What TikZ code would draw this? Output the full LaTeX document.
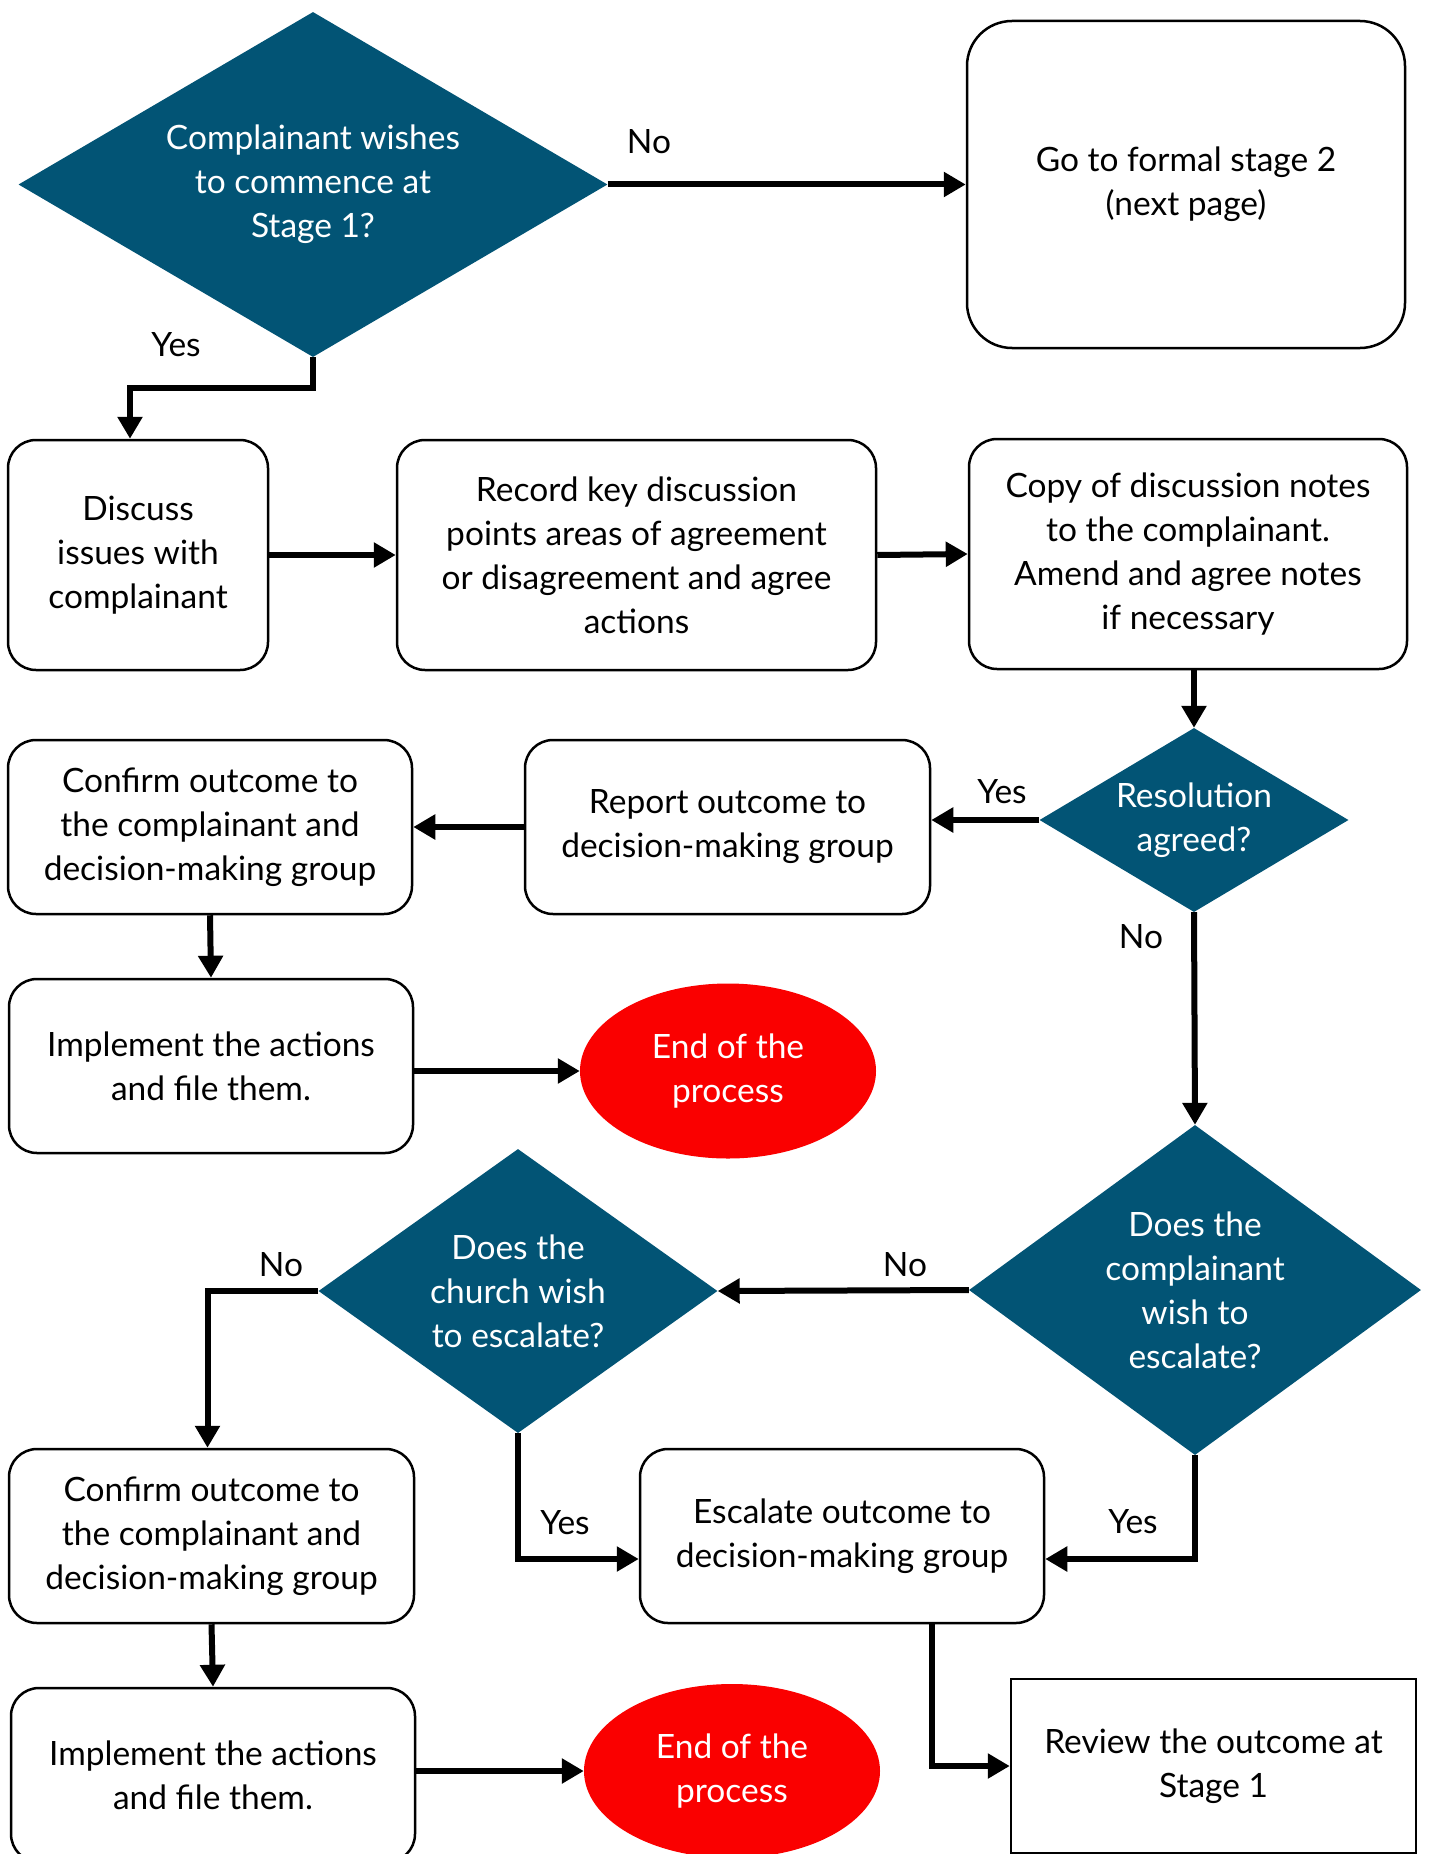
\documentclass[tikz,border=0pt]{standalone}
\usepackage{fontspec}
\setmainfont{Lato}
\usetikzlibrary{shapes.geometric,arrows.meta,calc}
\definecolor{dblue}{RGB}{2,84,117}
\definecolor{endred}{RGB}{250,0,0}
\begin{document}
\begin{tikzpicture}[x=1pt,y=-1pt,
  font=\fontsize{33.5}{44}\selectfont,
  box/.style={draw,line width=2.5pt,rounded corners=28pt,align=center,inner sep=0pt},
  sqbox/.style={draw,line width=2.5pt,align=center,inner sep=0pt},
  dec/.style={diamond,fill=dblue,text=white,align=center,inner sep=0pt},
  term/.style={ellipse,fill=endred,text=white,align=center,inner sep=0pt},
  conn/.style={line width=6pt,-{Triangle[length=22pt,width=24pt]}},
  lbl/.style={inner sep=0pt}
]
\useasboundingbox[fill=white] (0,0) rectangle (1431,1854);

% nodes
\node[dec,aspect=1.707,minimum width=589pt,minimum height=345pt] (q1) at (313,184.5) {Complainant wishes\\to commence at\\Stage 1?};
\node[box,rounded corners=45pt,minimum width=438pt,minimum height=327pt] (stage2) at (1186,184.5) {Go to formal stage 2\\(next page)};
\node[box,minimum width=260pt,minimum height=230pt] (discuss) at (138,555) {Discuss\\issues with\\complainant};
\node[box,minimum width=479pt,minimum height=230pt] (record) at (636.5,555) {Record key discussion\\points areas of agreement\\or disagreement and agree\\actions};
\node[box,minimum width=438pt,minimum height=230pt] (copy) at (1188,554) {Copy of discussion notes\\to the complainant.\\Amend and agree notes\\if necessary};
\node[dec,aspect=1.68,minimum width=309pt,minimum height=184pt] (res) at (1194,820) {Resolution\\agreed?};
\node[box,minimum width=405pt,minimum height=174pt] (report) at (727.5,827) {Report outcome to\\decision-making group};
\node[box,minimum width=404pt,minimum height=174pt] (confirm1) at (210,827) {Confirm outcome to\\the complainant and\\decision-making group};
\node[box,minimum width=404pt,minimum height=174pt] (impl1) at (211,1066) {Implement the actions\\and file them.};
\node[term,minimum width=296pt,minimum height=175pt] (end1) at (728,1071) {End of the\\process};
\node[dec,aspect=1.37,minimum width=452pt,minimum height=330pt] (q2) at (1195,1290) {Does the\\complainant\\wish to\\escalate?};
\node[dec,aspect=1.405,minimum width=399pt,minimum height=284pt] (q3) at (518,1291) {Does the\\church wish\\to escalate?};
\node[box,minimum width=404pt,minimum height=174pt] (escalate) at (842,1536) {Escalate outcome to\\decision-making group};
\node[box,minimum width=405pt,minimum height=174pt] (confirm2) at (211.5,1536) {Confirm outcome to\\the complainant and\\decision-making group};
\node[box,minimum width=404pt,minimum height=174pt] (impl2) at (213,1775) {Implement the actions\\and file them.};
\node[term,minimum width=296pt,minimum height=174pt] (end2) at (732,1771) {End of the\\process};
\node[sqbox,minimum width=405pt,minimum height=174pt] (review) at (1213.5,1766) {Review the outcome at\\Stage 1};

% labels
\node[lbl] (l1) at (649,142) {No};
\node[lbl] (l2) at (176,345) {Yes};
\node[lbl] (l3) at (1002,792) {Yes};
\node[lbl] (l4) at (1141,937) {No};
\node[lbl] (l5) at (905,1265) {No};
\node[lbl] (l6) at (281,1265) {No};
\node[lbl] (l7) at (565,1523) {Yes};
\node[lbl] (l8) at (1133,1522) {Yes};

% connectors
\draw[conn] (q1.east) -- (stage2.west);
\draw[conn] (q1.south) -- ++(0,31) -| ([xshift=-8pt]discuss.north);
\draw[conn] (discuss.east) -- (record.west);
\draw[conn] (record.east) -- (copy.west);
\draw[conn] (copy.south -| res.north) -- (res.north);
\draw[conn] (res.west) -- (res.west -| report.east);
\draw[conn] (report.west) -- (confirm1.east);
\draw[conn] (confirm1.south) -- (impl1.north);
\draw[conn] (impl1.east |- end1.west) -- (end1.west);
\draw[conn] (res.south) -- (q2.north);
\draw[conn] (q2.west) -- (q3.east);
\draw[conn] (q3.west) -| ([xshift=-4pt]confirm2.north);
\draw[conn] (q3.south) |- ($(escalate.west)+(0,23)$);
\draw[conn] (q2.south) |- ($(escalate.east)+(0,23)$);
\draw[conn] ($(escalate.south)+(90,0)$) |- (review.west);
\draw[conn] (confirm2.south) -- (impl2.north);
\draw[conn] (impl2.east |- end2.west) -- (end2.west);
\end{tikzpicture}
\end{document}
